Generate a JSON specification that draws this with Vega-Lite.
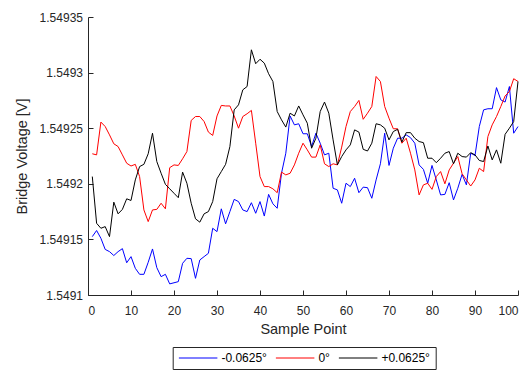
{
  "$schema": "https://vega.github.io/schema/vega-lite/v6.json",
  "width": 430,
  "height": 278,
  "autosize": {"type": "none"},
  "padding": {"left": 88, "top": 17, "right": 11, "bottom": 76},
  "background": "white",
  "config": {
    "font": "Liberation Sans",
    "view": {"stroke": null},
    "axis": {
      "grid": false,
      "domainColor": "#262626",
      "tickColor": "#262626",
      "tickSize": -5,
      "labelColor": "#262626",
      "labelFontSize": 12,
      "titleColor": "#262626",
      "titleFontSize": 14.5,
      "titleFontWeight": "normal"
    }
  },
  "data": {
    "values": [
      {"x": 1, "n": 1.5491525, "z": 1.549227, "p": 1.5492065},
      {"x": 2, "n": 1.549158, "z": 1.549226, "p": 1.5491645},
      {"x": 3, "n": 1.549151, "z": 1.5492555, "p": 1.54916},
      {"x": 4, "n": 1.549141, "z": 1.5492515, "p": 1.5491615},
      {"x": 5, "n": 1.549139, "z": 1.549244, "p": 1.5491525},
      {"x": 6, "n": 1.5491355, "z": 1.549236, "p": 1.5491835},
      {"x": 7, "n": 1.549139, "z": 1.5492335, "p": 1.549173},
      {"x": 8, "n": 1.5491417, "z": 1.549226, "p": 1.549177},
      {"x": 9, "n": 1.549129, "z": 1.5492185, "p": 1.5491865},
      {"x": 10, "n": 1.5491345, "z": 1.549216, "p": 1.549185},
      {"x": 11, "n": 1.549124, "z": 1.5492175, "p": 1.5492035},
      {"x": 12, "n": 1.5491186, "z": 1.5492065, "p": 1.5492155},
      {"x": 13, "n": 1.5491186, "z": 1.5491765, "p": 1.5492175},
      {"x": 14, "n": 1.5491294, "z": 1.549166, "p": 1.549227},
      {"x": 15, "n": 1.5491414, "z": 1.5491765, "p": 1.5492455},
      {"x": 16, "n": 1.5491246, "z": 1.549177, "p": 1.54922},
      {"x": 17, "n": 1.5491165, "z": 1.5491825, "p": 1.5492095},
      {"x": 18, "n": 1.5491186, "z": 1.5491775, "p": 1.5491995},
      {"x": 19, "n": 1.54911, "z": 1.5492145, "p": 1.5491955},
      {"x": 20, "n": 1.549111, "z": 1.549217, "p": 1.5491915},
      {"x": 21, "n": 1.549112, "z": 1.5492165, "p": 1.5491875},
      {"x": 22, "n": 1.5491285, "z": 1.5492225, "p": 1.5492105},
      {"x": 23, "n": 1.549133, "z": 1.549229, "p": 1.5492005},
      {"x": 24, "n": 1.5491327, "z": 1.549257, "p": 1.5491825},
      {"x": 25, "n": 1.549115, "z": 1.5492605, "p": 1.5491685},
      {"x": 26, "n": 1.5491315, "z": 1.5492605, "p": 1.5491655},
      {"x": 27, "n": 1.5491345, "z": 1.549256, "p": 1.549173},
      {"x": 28, "n": 1.5491375, "z": 1.5492465, "p": 1.549175},
      {"x": 29, "n": 1.54916, "z": 1.5492435, "p": 1.549184},
      {"x": 30, "n": 1.549157, "z": 1.549261, "p": 1.5492045},
      {"x": 31, "n": 1.5491775, "z": 1.5492705, "p": 1.549211},
      {"x": 32, "n": 1.549164, "z": 1.54927, "p": 1.5492175},
      {"x": 33, "n": 1.549175, "z": 1.54927, "p": 1.5492335},
      {"x": 34, "n": 1.549186, "z": 1.549261, "p": 1.5492665},
      {"x": 35, "n": 1.549184, "z": 1.54925, "p": 1.549271},
      {"x": 36, "n": 1.5491765, "z": 1.5492605, "p": 1.5492845},
      {"x": 37, "n": 1.549175, "z": 1.549263, "p": 1.5492875},
      {"x": 38, "n": 1.549183, "z": 1.549266, "p": 1.5493205},
      {"x": 39, "n": 1.5491735, "z": 1.5492365, "p": 1.549308},
      {"x": 40, "n": 1.549184, "z": 1.5492065, "p": 1.549312},
      {"x": 41, "n": 1.549171, "z": 1.5491975, "p": 1.5493085},
      {"x": 42, "n": 1.5491905, "z": 1.5491975, "p": 1.549299},
      {"x": 43, "n": 1.549182, "z": 1.5491955, "p": 1.549292},
      {"x": 44, "n": 1.549178, "z": 1.549192, "p": 1.549265},
      {"x": 45, "n": 1.5492095, "z": 1.5492105, "p": 1.5492575},
      {"x": 46, "n": 1.5492275, "z": 1.549208, "p": 1.549251},
      {"x": 47, "n": 1.549261, "z": 1.5492095, "p": 1.5492635},
      {"x": 48, "n": 1.549253, "z": 1.549217, "p": 1.549261},
      {"x": 49, "n": 1.549254, "z": 1.5492275, "p": 1.54927},
      {"x": 50, "n": 1.549245, "z": 1.5492365, "p": 1.549262},
      {"x": 51, "n": 1.549245, "z": 1.5492305, "p": 1.5492545},
      {"x": 52, "n": 1.5492335, "z": 1.549224, "p": 1.549232},
      {"x": 53, "n": 1.5492455, "z": 1.549224, "p": 1.549241},
      {"x": 54, "n": 1.5492365, "z": 1.549235, "p": 1.549265},
      {"x": 55, "n": 1.549226, "z": 1.549218, "p": 1.5492735},
      {"x": 56, "n": 1.5492275, "z": 1.5492155, "p": 1.5492635},
      {"x": 57, "n": 1.549196, "z": 1.549218, "p": 1.5492395},
      {"x": 58, "n": 1.5491945, "z": 1.549217, "p": 1.549217},
      {"x": 59, "n": 1.5491825, "z": 1.549233, "p": 1.5492245},
      {"x": 60, "n": 1.5492005, "z": 1.5492515, "p": 1.5492305},
      {"x": 61, "n": 1.5491975, "z": 1.549265, "p": 1.549235},
      {"x": 62, "n": 1.549205, "z": 1.5492695, "p": 1.5492485},
      {"x": 63, "n": 1.549192, "z": 1.549275, "p": 1.5492465},
      {"x": 64, "n": 1.549197, "z": 1.549258, "p": 1.549231},
      {"x": 65, "n": 1.5491965, "z": 1.5492635, "p": 1.5492295},
      {"x": 66, "n": 1.549187, "z": 1.5492695, "p": 1.5492365},
      {"x": 67, "n": 1.5492035, "z": 1.5492965, "p": 1.549254},
      {"x": 68, "n": 1.549218, "z": 1.549292, "p": 1.549253},
      {"x": 69, "n": 1.5492455, "z": 1.5492695, "p": 1.54925},
      {"x": 70, "n": 1.5492165, "z": 1.549259, "p": 1.5492395},
      {"x": 71, "n": 1.549232, "z": 1.5492495, "p": 1.549247},
      {"x": 72, "n": 1.549241, "z": 1.5492495, "p": 1.549249},
      {"x": 73, "n": 1.549241, "z": 1.5492365, "p": 1.5492375},
      {"x": 74, "n": 1.549244, "z": 1.549241, "p": 1.549246},
      {"x": 75, "n": 1.5492415, "z": 1.5492275, "p": 1.549246},
      {"x": 76, "n": 1.5492365, "z": 1.5492125, "p": 1.549241},
      {"x": 77, "n": 1.549217, "z": 1.54919, "p": 1.549238},
      {"x": 78, "n": 1.549213, "z": 1.549199, "p": 1.549237},
      {"x": 79, "n": 1.5492005, "z": 1.5492005, "p": 1.549223},
      {"x": 80, "n": 1.5492165, "z": 1.549195, "p": 1.549223},
      {"x": 81, "n": 1.5492035, "z": 1.5492065, "p": 1.549219},
      {"x": 82, "n": 1.54919, "z": 1.549211, "p": 1.549223},
      {"x": 83, "n": 1.5491905, "z": 1.5492, "p": 1.5492275},
      {"x": 84, "n": 1.549201, "z": 1.5492125, "p": 1.549229},
      {"x": 85, "n": 1.5491855, "z": 1.5492185, "p": 1.549218},
      {"x": 86, "n": 1.549196, "z": 1.5492245, "p": 1.5492275},
      {"x": 87, "n": 1.5492085, "z": 1.549209, "p": 1.5492245},
      {"x": 88, "n": 1.549199, "z": 1.5492035, "p": 1.549224},
      {"x": 89, "n": 1.5492275, "z": 1.549198, "p": 1.549228},
      {"x": 90, "n": 1.5492255, "z": 1.5492035, "p": 1.549226},
      {"x": 91, "n": 1.5492515, "z": 1.549214, "p": 1.549221},
      {"x": 92, "n": 1.5492665, "z": 1.549211, "p": 1.54922},
      {"x": 93, "n": 1.5492675, "z": 1.5492425, "p": 1.549234},
      {"x": 94, "n": 1.5492675, "z": 1.549253, "p": 1.5492215},
      {"x": 95, "n": 1.5492865, "z": 1.5492605, "p": 1.5492305},
      {"x": 96, "n": 1.5492755, "z": 1.5492695, "p": 1.5492185},
      {"x": 97, "n": 1.5492735, "z": 1.549279, "p": 1.5492445},
      {"x": 98, "n": 1.5492875, "z": 1.549283, "p": 1.54925},
      {"x": 99, "n": 1.5492455, "z": 1.5492945, "p": 1.549256},
      {"x": 100, "n": 1.5492515, "z": 1.549292, "p": 1.549292}
    ]
  },
  "transform": [{"fold": ["n", "z", "p"], "as": ["s", "v"]}],
  "mark": {"type": "line", "strokeWidth": 1},
  "encoding": {
    "x": {
      "field": "x",
      "type": "quantitative",
      "scale": {"domain": [0, 100], "nice": false},
      "axis": {
        "title": "Sample Point",
        "values": [0, 10, 20, 30, 40, 50, 60, 70, 80, 90, 100],
        "labelPadding": 15,
        "titleY": 34,
        "titleBaseline": "middle"
      }
    },
    "y": {
      "field": "v",
      "type": "quantitative",
      "scale": {"domain": [1.5491, 1.54935], "nice": false, "zero": false},
      "axis": {
        "title": "Bridge Voltage [V]",
        "values": [1.5491, 1.54915, 1.5492, 1.54925, 1.5493, 1.54935],
        "format": ".5~f",
        "labelPadding": 10.5,
        "titleX": -66,
        "titleY": 139,
        "titleBaseline": "middle"
      }
    },
    "color": {
      "field": "s",
      "type": "nominal",
      "scale": {"domain": ["n", "z", "p"], "range": ["#0000ff", "#ff0000", "#000000"]},
      "legend": {
        "title": null,
        "orient": "none",
        "legendX": 84.7,
        "legendY": 330,
        "direction": "horizontal",
        "symbolType": "M-1,0H7",
        "symbolSize": 92.6,
        "symbolStrokeWidth": 1,
        "labelFontSize": 12,
        "labelColor": "#000000",
        "labelOffset": 31.7,
        "columnPadding": 6,
        "padding": 5,
        "strokeColor": "#262626",
        "fillColor": "white",
        "labelExpr": "datum.label == 'n' ? '-0.0625°' : datum.label == 'z' ? '0°' : '+0.0625°'"
      }
    }
  }
}
